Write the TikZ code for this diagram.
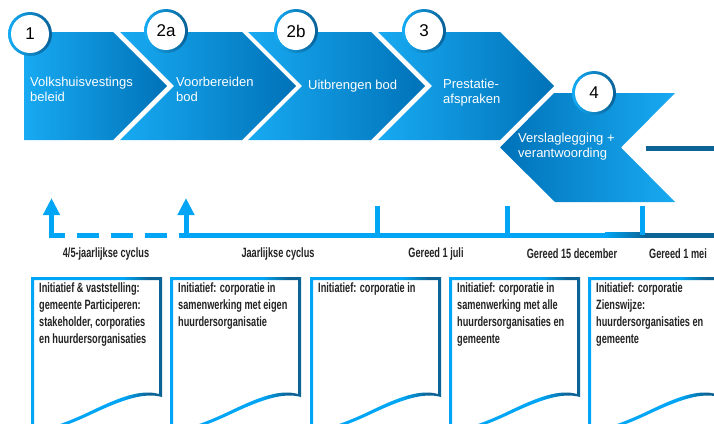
\documentclass[tikz,border=0pt]{standalone}
\usepackage{fontspec}
\setmainfont{Liberation Sans}
\newfontfamily\condfont[FakeStretch=0.68]{Liberation Sans}
\usepackage{xcolor}
\usetikzlibrary{arrows.meta}
\definecolor{chevlight}{RGB}{24,170,242}
\definecolor{chevdark}{RGB}{0,114,184}
\definecolor{ringlight}{RGB}{20,172,245}
\definecolor{ringdark}{RGB}{10,96,150}
\definecolor{linelight}{RGB}{0,166,245}
\definecolor{linedark}{RGB}{12,100,150}
\definecolor{boxtext}{RGB}{35,35,35}
\pgfdeclarehorizontalshading{boxedge}{100bp}{color(0bp)=(linelight); color(60bp)=(linelight); color(70bp)=(linedark); color(100bp)=(linedark)}
\newcommand{\docbox}[1]{%
  \shade[shading=boxedge, even odd rule]
    (#1,436) -- (#1,277) -- (#1+131,277) -- (#1+131,397)
      .. controls (#1+113,392) and (#1+91,400) .. (#1+61,414)
      .. controls (#1+36,426) and (#1+16,432) .. (#1,434) -- cycle
    (#1+3,436) -- (#1+3,280) -- (#1+128,280) -- (#1+128,394)
      .. controls (#1+110,389) and (#1+89,397) .. (#1+60,411)
      .. controls (#1+35,423) and (#1+16,429) .. (#1+3,431) -- cycle;}
\tikzset{
  chev/.style={left color=chevlight, right color=chevdark},
  chevback/.style={left color=chevdark, right color=chevlight},
  chevtxt/.style={anchor=west, align=left, text=white, inner sep=0pt, font=\fontsize{13}{15}\selectfont},
  numring/.style={circle, minimum size=44pt, inner sep=0pt, left color=ringlight, right color=ringdark},
  numdisk/.style={circle, minimum size=38pt, inner sep=0pt, fill=white, font=\fontsize{17}{17}\selectfont},
  tline/.style={line width=5pt, linelight},
  tlabel/.style={font=\condfont\bfseries\fontsize{13.5}{15}\selectfont, text=boxtext},
  boxtxt/.style={anchor=north west, align=left, inner sep=0pt, text=boxtext, font=\condfont\bfseries\fontsize{13.5}{17}\selectfont}
}
\begin{document}
\begin{tikzpicture}[x=1pt,y=-1pt]
        \useasboundingbox (0,0) rectangle (714,423);
        \clip (0,0) rectangle (714,423);
        %CHEVRONS
        \shade[chev] (24,32) -- (113,32) -- (167,86) -- (113,140) -- (24,140) -- cycle;
        \shade[chev] (120,32) -- (242,32) -- (296,86) -- (242,140) -- (120,140) -- (174,86) -- cycle;
        \shade[chev] (248,32) -- (371,32) -- (425,86) -- (371,140) -- (248,140) -- (302,86) -- cycle;
        \shade[chev] (378,32) -- (500,32) -- (554,86) -- (500,140) -- (378,140) -- (432,86) -- cycle;
        \shade[chevback] (554,93) -- (675,93) -- (621,147.5) -- (675,202) -- (555,202) -- (500,147.5) -- cycle;
        \coordinate (r4) at (646,148);
        \draw[line width=5pt, linedark] (r4) -- (r4 -| 714,0);
        %TEKST IN PIJLEN
        \node[chevtxt] (t1) at (30,89) {Volkshuisvestings\\beleid};
        \node[chevtxt] (t2a) at (176,89) {Voorbereiden\\bod};
        \node[chevtxt] (t2b) at (308,86) {Uitbrengen bod};
        \node[chevtxt] (t3) at (443,93) {Prestatie-\\afspraken};
        \node[chevtxt] (t4) at (518,147) {Verslaglegging +\\verantwoording};
        %CIRKELS
        \node[numring] (r1) at (30,34) {};
        \node[numdisk] (n1) at (r1) {1};
        \node[numring] (r2a) at (166,31) {};
        \node[numdisk] (n2a) at (r2a) {2a};
        \node[numring] (r2b) at (296,31) {};
        \node[numdisk] (n2b) at (r2b) {2b};
        \node[numring] (r3) at (424,31) {};
        \node[numdisk] (n3) at (r3) {3};
        \node[numring] (r4c) at (594,93) {};
        \node[numdisk] (n4) at (r4c) {4};
        %TIJDLIJN
        \coordinate (a1) at (51.5,237.5);
        \coordinate (a1top) at (51.5,198);
        \coordinate (a2) at (186,237.5);
        \coordinate (a2top) at (186,198);
        \draw[tline, dash pattern=on 22pt off 12pt, dash phase=6.5pt] (49,235) -- (186,235);
        \fill[linelight] (184,232.5) rectangle (605,237.5);
        \shade[left color=linelight, right color=linedark] (605,232.5) rectangle (645,237.5);
        \fill[linedark] (645,232.5) rectangle (714,237.5);
        \draw[tline, -{Triangle[length=17pt,width=16pt]}] (a1) -- (a1top);
        \draw[tline, -{Triangle[length=17pt,width=16pt]}] (a2) -- (a2top);
        \coordinate (k1) at (377,206);
        \coordinate (k2) at (507,206);
        \coordinate (k3) at (642,206);
        \draw[tline] (k1) -- ++(0,29);
        \draw[tline] (k2) -- ++(0,29);
        \draw[tline] (k3) -- ++(0,29);
        \node[tlabel] (l1) at (106,254) {4/5-jaarlijkse cyclus};
        \node[tlabel] (l2) at (278,254) {Jaarlijkse cyclus};
        \node[tlabel] (l3) at (436,254) {Gereed 1 juli};
        \node[tlabel] (l4) at (572,254) {Gereed 15 december};
        \node[tlabel] (l5) at (678,254) {Gereed 1 mei};
        %BLADEN
        \docbox{31}
        \docbox{170}
        \docbox{310}
        \docbox{449}
        \docbox{588}
        \node[boxtxt] (b1) at (39,283) {Initiatief \& vaststelling:\\gemeente Participeren:\\stakeholder, corporaties\\en huurdersorganisaties};
        \node[boxtxt] (b2) at (178,283) {Initiatief: corporatie in\\samenwerking met eigen\\huurdersorganisatie};
        \node[boxtxt] (b3) at (318,283) {Initiatief: corporatie in};
        \node[boxtxt] (b4) at (457,283) {Initiatief: corporatie in\\samenwerking met alle\\huurdersorganisaties en\\gemeente};
        \node[boxtxt] (b5) at (596,283) {Initiatief: corporatie\\Zienswijze:\\huurdersorganisaties en\\gemeente};
    \end{tikzpicture}
\end{document}
